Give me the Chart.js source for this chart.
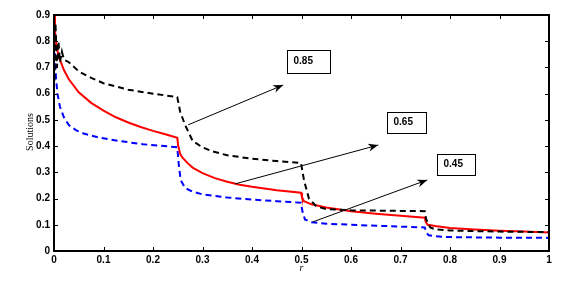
<!DOCTYPE html>
<html><head><meta charset="utf-8">
<script src="https://cdn.jsdelivr.net/npm/chart.js@4/dist/chart.umd.min.js"></script>
<style>html,body{margin:0;padding:0;background:#fff}#wrap{width:567px;height:285px}</style>
</head><body><div id="wrap"><canvas id="c" width="567" height="285"></canvas></div>
<script>
const xTicks = [0,0.1,0.2,0.3,0.4,0.5,0.6,0.7,0.8,0.9,1];
const yTicks = [0,0.1,0.2,0.3,0.4,0.5,0.6,0.7,0.8,0.9];

const rRed = [0,0.002,0.005,0.01,0.02,0.03,0.05,0.075,0.1,0.125,0.15,0.175,0.2,0.225,0.249,0.251,0.255,0.26,0.27,0.28,0.3,0.325,0.35,0.375,0.4,0.45,0.499,0.501,0.505,0.52,0.55,0.6,0.65,0.7,0.749,0.751,0.755,0.77,0.8,0.85,0.9,0.95,1.0];
const red  = [0.9,0.84,0.78,0.74,0.69,0.655,0.605,0.565,0.535,0.51,0.49,0.473,0.458,0.445,0.432,0.40,0.37,0.355,0.335,0.318,0.297,0.278,0.264,0.253,0.245,0.232,0.222,0.205,0.19,0.178,0.166,0.152,0.142,0.134,0.127,0.11,0.10,0.095,0.088,0.082,0.077,0.074,0.071];

const rBlack = [0.001,0.003,0.006,0.009,0.012,0.016,0.02,0.03,0.05,0.075,0.1,0.15,0.2,0.249,0.255,0.265,0.28,0.3,0.32,0.35,0.4,0.45,0.499,0.505,0.515,0.53,0.55,0.6,0.7,0.749,0.752,0.76,0.77,0.8,0.9,1.0];
const black  = [0.65,0.87,0.7,0.8,0.72,0.76,0.73,0.72,0.685,0.66,0.64,0.615,0.6,0.587,0.53,0.48,0.42,0.395,0.38,0.365,0.352,0.343,0.336,0.27,0.2,0.17,0.16,0.155,0.153,0.152,0.12,0.09,0.083,0.078,0.074,0.072];

const rBlue = [0,0.002,0.004,0.007,0.012,0.02,0.03,0.045,0.06,0.09,0.13,0.18,0.249,0.252,0.256,0.265,0.28,0.3,0.35,0.4,0.45,0.499,0.502,0.507,0.52,0.55,0.6,0.7,0.749,0.752,0.757,0.77,0.8,0.9,1.0];
const blue  = [0.83,0.76,0.66,0.6,0.55,0.51,0.48,0.46,0.448,0.433,0.42,0.407,0.396,0.33,0.27,0.24,0.226,0.216,0.204,0.196,0.19,0.184,0.15,0.12,0.11,0.104,0.1,0.093,0.09,0.07,0.06,0.056,0.053,0.051,0.05];

const labels = ['0.85','0.65','0.45'];
// annotation geometry in data units: arrow start, arrow head, box corners
const annArrows = [[0.271,0.481,0.463,0.633],[0.366,0.256,0.655,0.404],[0.523,0.111,0.754,0.271]];
const annBoxes = [[0.471,0.767,0.558,0.679],[0.673,0.530,0.752,0.450],[0.774,0.370,0.851,0.290]];

const pts = (xs, ys) => xs.map((x,i)=>({x:x,y:ys[i]}));

const deco = {
  id:'deco',
  afterDatasetsDraw(chart){
    const ctx = chart.ctx, xs = chart.scales.x, ys = chart.scales.y, a = chart.chartArea;
    ctx.save();
    ctx.strokeStyle = '#000'; ctx.lineWidth = 1;
    ctx.beginPath();
    xTicks.forEach(v=>{const p=Math.round(xs.getPixelForValue(v))+0.5;
      ctx.moveTo(p,a.bottom); ctx.lineTo(p,a.bottom-4); ctx.moveTo(p,a.top); ctx.lineTo(p,a.top+4);});
    yTicks.forEach(v=>{const p=Math.round(ys.getPixelForValue(v))+0.5;
      ctx.moveTo(a.left,p); ctx.lineTo(a.left+4,p); ctx.moveTo(a.right,p); ctx.lineTo(a.right-4,p);});
    ctx.stroke();
    ctx.lineWidth = 2;
    ctx.strokeRect(a.left, a.top, a.right-a.left, a.bottom-a.top);
    ctx.lineWidth = 1;
    annArrows.forEach(ar=>{
      const x1=xs.getPixelForValue(ar[0]), y1=ys.getPixelForValue(ar[1]);
      const x2=xs.getPixelForValue(ar[2]), y2=ys.getPixelForValue(ar[3]);
      ctx.beginPath(); ctx.moveTo(x1,y1); ctx.lineTo(x2,y2); ctx.stroke();
      const ang=Math.atan2(y2-y1,x2-x1), L=10, W=4;
      ctx.beginPath(); ctx.moveTo(x2,y2);
      ctx.lineTo(x2-L*Math.cos(ang)+W*Math.sin(ang), y2-L*Math.sin(ang)-W*Math.cos(ang));
      ctx.lineTo(x2-L*Math.cos(ang)*0.7, y2-L*Math.sin(ang)*0.7);
      ctx.lineTo(x2-L*Math.cos(ang)-W*Math.sin(ang), y2-L*Math.sin(ang)+W*Math.cos(ang));
      ctx.closePath(); ctx.fillStyle='#000'; ctx.fill();
    });
    ctx.font = 'bold 10px "Liberation Sans", Arial, sans-serif';
    ctx.textBaseline = 'middle'; ctx.textAlign = 'left';
    annBoxes.forEach((b,i)=>{
      const x1=Math.round(xs.getPixelForValue(b[0]))+0.5, y1=Math.round(ys.getPixelForValue(b[1]))+0.5;
      const x2=Math.round(xs.getPixelForValue(b[2]))+0.5, y2=Math.round(ys.getPixelForValue(b[3]))+0.5;
      ctx.fillStyle='#fff'; ctx.fillRect(x1,y1,x2-x1,y2-y1);
      ctx.strokeStyle='#000'; ctx.strokeRect(x1,y1,x2-x1,y2-y1);
      ctx.fillStyle='#000'; ctx.fillText(labels[i], x1+6, (y1+y2)/2-1);
    });
    ctx.font = 'italic 10px "Liberation Serif", serif';
    ctx.textAlign='center'; ctx.textBaseline='middle';
    ctx.fillText('r', (a.left+a.right)/2, 268);
    ctx.translate(30, 132); ctx.rotate(-Math.PI/2);
    ctx.font = '10px "Liberation Serif", serif';
    ctx.fillText('Solutions', 0, 0);
    ctx.restore();
  }
};

new Chart(document.getElementById('c'), {
  type:'line',
  data:{datasets:[
    {data:pts(rBlack,black), borderColor:'#000', borderWidth:2, borderDash:[6,4], pointRadius:0, fill:false, tension:0},
    {data:pts(rRed,red), borderColor:'#ff0000', borderWidth:2, pointRadius:0, fill:false, tension:0},
    {data:pts(rBlue,blue), borderColor:'#0000ff', borderWidth:2, borderDash:[6,4], pointRadius:0, fill:false, tension:0}
  ]},
  plugins:[deco],
  options:{
    responsive:false, animation:false, devicePixelRatio:1,
    layout:{padding:{left:0,right:18,top:15,bottom:0}},
    plugins:{legend:{display:false}, tooltip:{enabled:false}},
    scales:{
      x:{type:'linear', min:0, max:1,
        afterBuildTicks:s=>{s.ticks=xTicks.map(v=>({value:v}));},
        afterFit:s=>{s.height=34;},
        grid:{display:false, drawTicks:false, tickLength:0}, border:{display:false},
        ticks:{color:'#000', padding:3, maxRotation:0, font:{family:'"Liberation Sans", Arial, sans-serif', size:10, weight:'bold'},
          callback:v=>String(v)}},
      y:{type:'linear', min:0, max:0.9,
        afterBuildTicks:s=>{s.ticks=yTicks.map(v=>({value:v}));},
        afterFit:s=>{s.width=54;},
        grid:{display:false, drawTicks:false, tickLength:0}, border:{display:false},
        ticks:{color:'#000', padding:4, font:{family:'"Liberation Sans", Arial, sans-serif', size:10, weight:'bold'},
          callback:v=>String(v)}}
    }
  }
});
</script></body></html>
